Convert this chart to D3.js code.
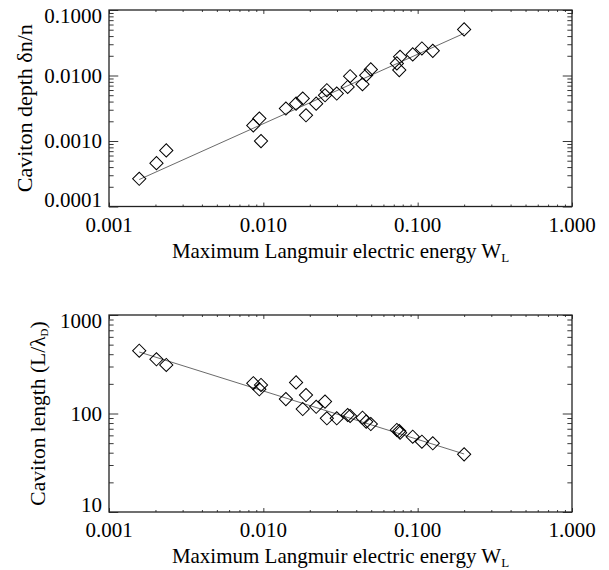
<!DOCTYPE html>
<html><head><meta charset="utf-8">
<script src="https://cdn.jsdelivr.net/npm/d3@7/dist/d3.min.js"></script>
<style>
html,body{margin:0;padding:0;background:#fff;}
svg text{font-family:"Liberation Serif","Times New Roman","DejaVu Serif",serif;fill:#000;}
</style></head>
<body><svg id="c" width="609" height="570" font-family="Liberation Serif, Times New Roman, DejaVu Serif, serif"></svg>
<script>
// ---- data ----
const energy = [0.00157,0.00203,0.00235,0.00861,0.00942,0.00966,0.0140,0.0163,0.0180,0.0189,0.0220,0.0251,0.0258,0.0299,0.0352,0.0365,0.0439,0.0464,0.0497,0.0733,0.0769,0.0760,0.0929,0.1065,0.1253,0.200];
const depth  = [0.000265,0.000459,0.000718,0.00173,0.00220,0.000996,0.00313,0.00372,0.00445,0.00247,0.00372,0.00499,0.00596,0.00530,0.00668,0.00976,0.00736,0.0101,0.0124,0.0153,0.0193,0.0121,0.0210,0.0259,0.0238,0.0506];
const caviLength = [434,355,311,203,176,195,140,207,111,154,117,132,89.4,89.4,96.5,94.4,90.6,82.6,78.2,68.0,63.8,66.4,58.1,51.7,49.8,38.5];
const fitEnergy = [0.00157,0.200];
const depthFit  = [0.000258,0.044];
const lengthFit = [421,38.8];
const xTickLabels = ["0.001","0.010","0.100","1.000"];
const xMajor = [0.001,0.01,0.1,1];
const depthTicks = [0.0001,0.001,0.01,0.1];
const depthTickLabels = ["0.0001","0.0010","0.0100","0.1000"];
const lengthTicks = [10,100,1000];
const lengthTickLabels = ["10","100","1000"];
const xTitle = "Maximum Langmuir electric energy W";
const xTitleSub = "L";

const svg = d3.select("#c");
const FS = 21;
const FONT = "Liberation Serif, Times New Roman, DejaVu Serif, serif";

function minorTicks(lo, hi){
  const out=[];
  for(let e=Math.round(Math.log10(lo)); e<Math.round(Math.log10(hi)); e++){
    for(let m=2;m<=9;m++) out.push(m*Math.pow(10,e));
  }
  return out;
}

function panel(yScale, yVals, yTicks, yTickLabels, fitY, yTitleParts, yTitleX, yTitleFS){
  const x = d3.scaleLog().domain([0.001,1]).range([109,572]);
  const [x0,x1] = x.range();
  const [yb,yt] = yScale.range();
  const g = svg.append("g").attr("font-family",FONT);
  const ph = yb-yt, pw = x1-x0;
  const xl = 0.02*ph, yl = 0.02*pw;
  const xMinor = minorTicks(0.001,1);
  const yMinor = minorTicks(yScale.domain()[0], yScale.domain()[1]);
  const tickStyle = s => s.selectAll("line").attr("stroke","#222").attr("stroke-width",0.9);
  const clean = s => { s.select(".domain").remove(); s.selectAll("text").remove(); };
  const gb = g.append("g").attr("transform",`translate(0,${yb})`);
  gb.call(d3.axisBottom(x).tickValues(xMajor).tickSize(-xl).tickSizeOuter(0)); clean(gb); tickStyle(gb);
  const gbm = g.append("g").attr("transform",`translate(0,${yb})`);
  gbm.call(d3.axisBottom(x).tickValues(xMinor).tickSize(-xl/2).tickSizeOuter(0)); clean(gbm); tickStyle(gbm);
  const gt = g.append("g").attr("transform",`translate(0,${yt})`);
  gt.call(d3.axisTop(x).tickValues(xMajor).tickSize(-xl).tickSizeOuter(0)); clean(gt); tickStyle(gt);
  const gtm = g.append("g").attr("transform",`translate(0,${yt})`);
  gtm.call(d3.axisTop(x).tickValues(xMinor).tickSize(-xl/2).tickSizeOuter(0)); clean(gtm); tickStyle(gtm);
  const gl = g.append("g").attr("transform",`translate(${x0},0)`);
  gl.call(d3.axisLeft(yScale).tickValues(yTicks).tickSize(-yl).tickSizeOuter(0)); clean(gl); tickStyle(gl);
  const glm = g.append("g").attr("transform",`translate(${x0},0)`);
  glm.call(d3.axisLeft(yScale).tickValues(yMinor).tickSize(-yl/2).tickSizeOuter(0)); clean(glm); tickStyle(glm);
  const gr = g.append("g").attr("transform",`translate(${x1},0)`);
  gr.call(d3.axisRight(yScale).tickValues(yTicks).tickSize(-yl).tickSizeOuter(0)); clean(gr); tickStyle(gr);
  const grm = g.append("g").attr("transform",`translate(${x1},0)`);
  grm.call(d3.axisRight(yScale).tickValues(yMinor).tickSize(-yl/2).tickSizeOuter(0)); clean(grm); tickStyle(grm);
  g.append("rect").attr("x",x0).attr("y",yt).attr("width",pw).attr("height",ph)
    .attr("fill","none").attr("stroke","#222").attr("stroke-width",1.3);
  g.selectAll(".xl").data(xMajor).join("text")
    .attr("font-family",FONT)
    .attr("x",d=>x(d)).attr("y",yb+25).attr("text-anchor","middle").attr("font-size",FS)
    .text((d,i)=>xTickLabels[i]);
  const n = yTicks.length;
  g.selectAll(".yl").data(yTicks).join("text")
    .attr("font-family",FONT)
    .attr("x",x0-7).attr("y",(d,i)=>yScale(d)+(i===0?0:(i===n-1?12.5:7)))
    .attr("text-anchor","end").attr("font-size",FS)
    .text((d,i)=>yTickLabels[i]);
  const xt = g.append("text").attr("font-family",FONT).attr("x",(x0+x1)/2).attr("y",yb+51).attr("text-anchor","middle").attr("font-size",FS);
  xt.append("tspan").text(xTitle);
  xt.append("tspan").attr("font-size",13).attr("dy",4).text(xTitleSub);
  const ytt = g.append("text").attr("font-family",FONT).attr("transform",`translate(${yTitleX},${(yt+yb)/2}) rotate(-90)`)
    .attr("text-anchor","middle").attr("font-size",yTitleFS);
  yTitleParts.forEach(p=>{
    const t = ytt.append("tspan").text(p.t);
    if(p.sub){ t.attr("font-size",11).attr("dy",3); }
    else if(p.after){ t.attr("dy",-3); }
  });
  g.append("path").datum(fitEnergy.map((e,i)=>[e,fitY[i]]))
    .attr("d",d3.line().x(d=>x(d[0])).y(d=>yScale(d[1])))
    .attr("fill","none").attr("stroke","#444").attr("stroke-width",0.8);
  const sym = d3.symbol().type(d3.symbolSquare).size(87);
  g.selectAll(".pt").data(energy.map((e,i)=>[e,yVals[i]])).join("path")
    .attr("d",sym).attr("transform",d=>`translate(${x(d[0])},${yScale(d[1])}) rotate(45)`)
    .attr("fill","none").attr("stroke","#000").attr("stroke-width",1);
}

const yTop = d3.scaleLog().domain([0.0001,0.1]).range([206.5,10]);
const yBot = d3.scaleLog().domain([10,1000]).range([512,315]);
panel(yTop, depth, depthTicks, depthTickLabels, depthFit, [{t:"Caviton depth δn/n"}], 32, 22);
panel(yBot, caviLength, lengthTicks, lengthTickLabels, lengthFit, [{t:"Caviton length (L/λ"},{t:"D",sub:true},{t:")",after:true}], 45, 21.5);
</script></body></html>
